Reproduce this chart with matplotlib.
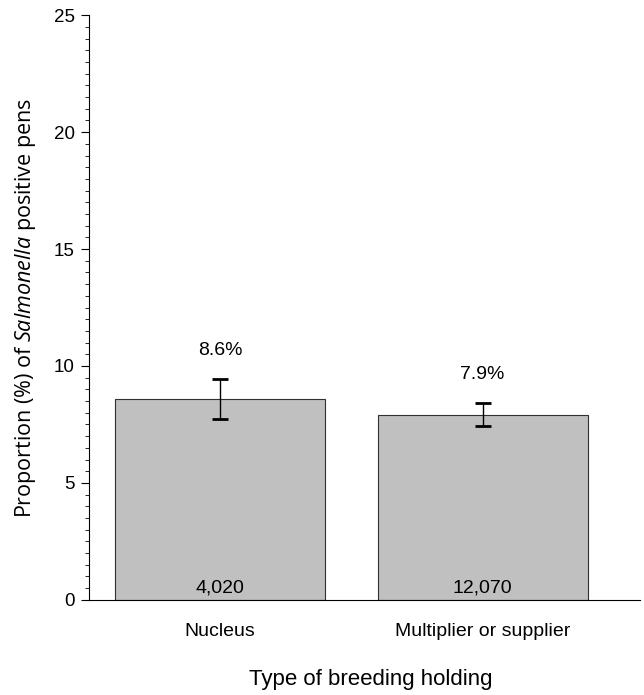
import matplotlib
matplotlib.use("Agg")
import matplotlib.pyplot as plt
from matplotlib.ticker import MultipleLocator

plt.rcParams['font.family'] = ['Liberation Sans', 'DejaVu Sans']
plt.rcParams['mathtext.fontset'] = 'custom'
plt.rcParams['mathtext.rm'] = 'Open Sans'
plt.rcParams['mathtext.it'] = 'Open Sans:italic'

categories = ["Nucleus", "Multiplier or supplier"]
proportions = [8.6, 7.9]
ci_lower = [7.72, 7.45]
ci_upper = [9.43, 8.40]
pen_counts = ["4,020", "12,070"]

fig = plt.figure(figsize=(6.44, 6.95), dpi=100)
ax = fig.add_axes([0.138, 0.137, 0.856, 0.841])

x = list(range(len(categories)))
ax.bar(x, proportions, width=0.8, color="#c0c0c0", edgecolor="#303030", linewidth=0.8, zorder=2)
yerr = [[p - lo for p, lo in zip(proportions, ci_lower)],
        [hi - p for p, hi in zip(proportions, ci_upper)]]
ax.errorbar(x, proportions, yerr=yerr, fmt="none", ecolor="black",
            elinewidth=1.0, capsize=6, capthick=2, zorder=3)

for xi, p, hi, n in zip(x, proportions, ci_upper, pen_counts):
    ax.text(xi, hi + 1.25, f"{p}%", ha="center", va="center", fontsize=14)
    ax.text(xi, 0.5, n, ha="center", va="center", fontsize=14, zorder=4)

ax.set_xlim(-0.5, 1.6)
ax.set_ylim(0, 25)
ax.yaxis.set_major_locator(MultipleLocator(5))
ax.yaxis.set_minor_locator(MultipleLocator(0.5))
ax.spines['top'].set_visible(False)
ax.spines['right'].set_visible(False)
ax.set_xticks(x)
ax.set_xticklabels(categories, fontsize=14)
ax.tick_params(axis='x', length=0, pad=17)
ax.tick_params(axis='y', which='major', length=6, pad=4, labelsize=13.5)
ax.tick_params(axis='y', which='minor', length=3)
ax.set_xlabel("Type of breeding holding", fontsize=16)
ax.xaxis.set_label_coords(0.511, -0.118)
ax.set_ylabel("Proportion (%) of $\\it{Salmonella}$ positive pens", fontsize=15.5,
              fontfamily="Open Sans")
ax.yaxis.set_label_coords(-0.092, 0.5)

fig.savefig("out.png", dpi=100)
